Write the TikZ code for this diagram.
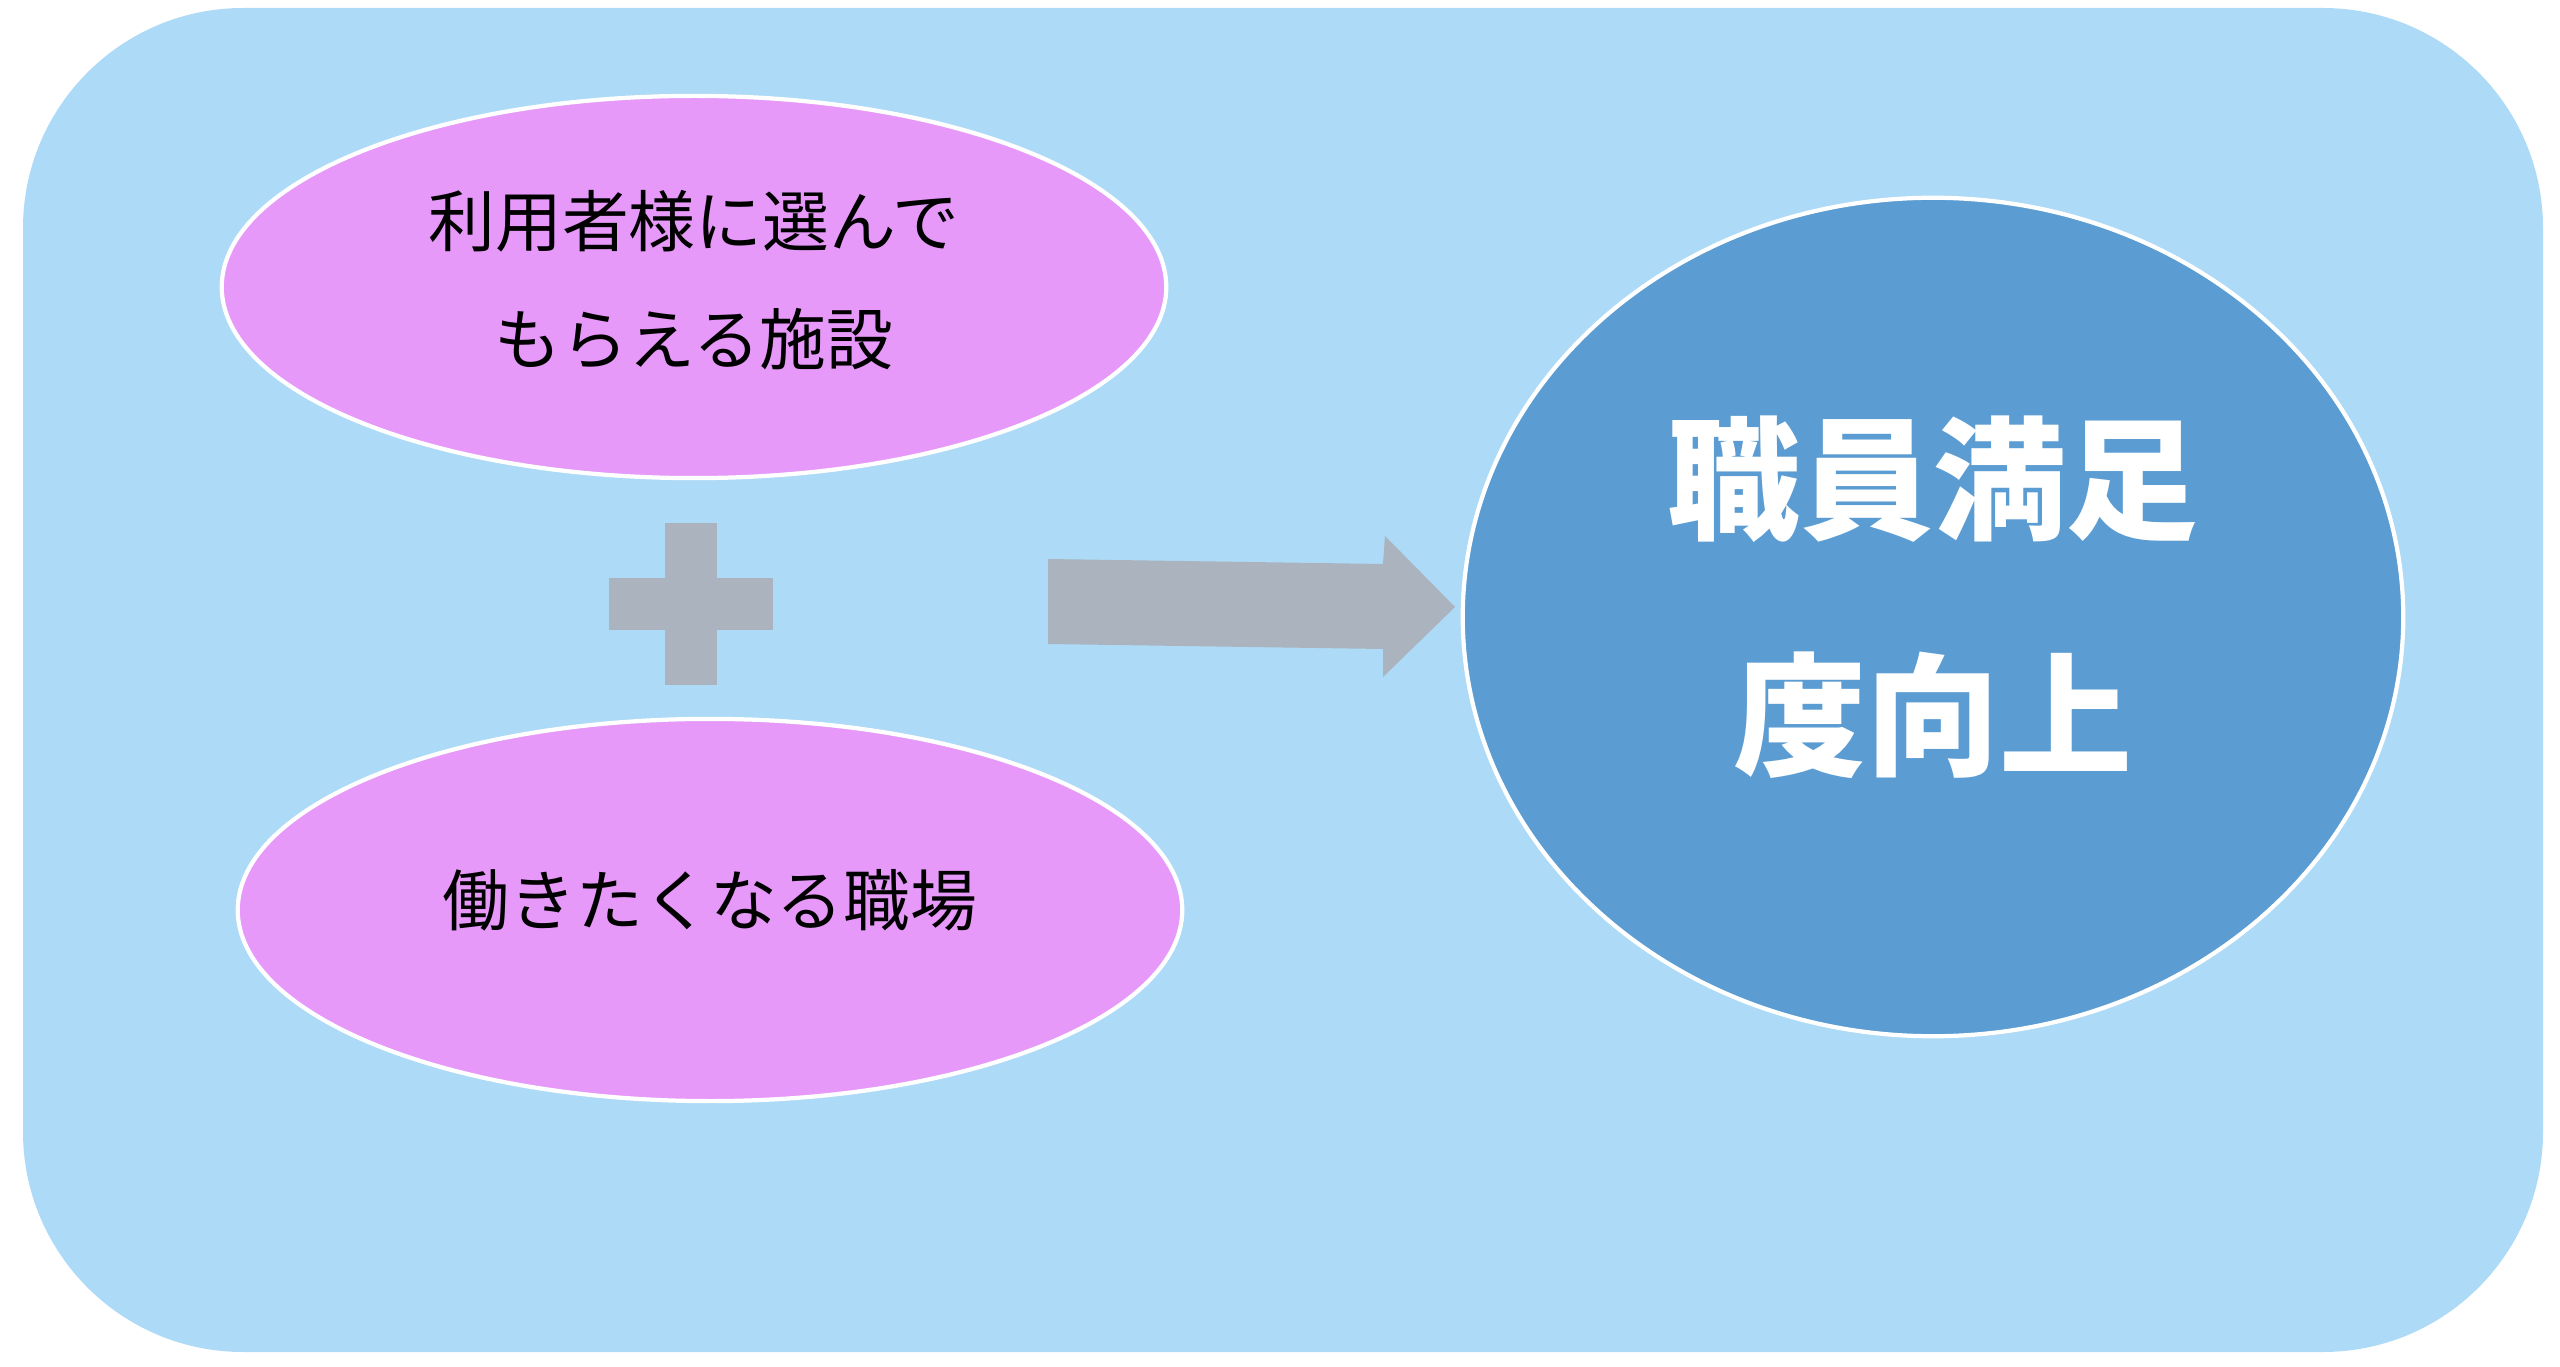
\documentclass[tikz,border=0pt]{standalone}
\usepackage{fontspec}
\newfontfamily\jpfont{Noto Sans CJK JP}
\usetikzlibrary{shapes.geometric}

\definecolor{fondo}{HTML}{ADDAF6}
\definecolor{rosa}{HTML}{E699F8}
\definecolor{azul}{HTML}{5B9CD2}
\definecolor{gris}{HTML}{ABB3BF}

\tikzset{
  meta/.style={ellipse, fill=rosa, draw=white, line width=1.2pt, inner sep=0pt,
    minimum width=9.44cm, minimum height=3.82cm},
  metatexto/.style={align=center, inner sep=0pt,
    font=\jpfont\fontsize{19pt}{33.6pt}\selectfont},
  logro/.style={ellipse, fill=azul, draw=white, line width=1.2pt, inner sep=0pt,
    minimum width=9.4cm, minimum height=8.38cm},
  logrotexto/.style={align=center, inner sep=0pt, text=white,
    font=\jpfont\bfseries\fontsize{37.8pt}{67pt}\selectfont},
  barra/.style={rectangle, fill=gris, inner sep=0pt}
}

\begin{document}
\begin{tikzpicture}[x=0.01cm, y=-0.01cm]
    % Fondo
    \useasboundingbox (0,0) rectangle (2560,1367);
    \fill[fondo, rounded corners=2.2cm] (23,8) rectangle (2543,1352);

    % Elipses
    \node[meta, label={[metatexto, yshift=0.07cm]center:{利用者様に選んで\\もらえる施設}}] (usuarios) at (694,287) {};
    \node[meta, label={[metatexto, yshift=0.1cm]center:働きたくなる職場}] (trabajo) at (710,910) {};

    % Signo más
    \node[barra, minimum width=0.52cm, minimum height=1.62cm] (masv) at (691,604) {};
    \node[barra, minimum width=1.63cm, minimum height=0.52cm] (mash) at (691,604) {};

    % Flecha
    \fill[gris] (1048,559) -- (1383,564) -- (1385,536) -- (1455,607)
        -- (1383,677) -- (1383,649) -- (1048,644) -- cycle;

    % Resultado
    \node[logro, label={[logrotexto, yshift=0.2cm]center:{職員満足\\度向上}}] (resultado) at (1933,617) {};
\end{tikzpicture}
\end{document}
